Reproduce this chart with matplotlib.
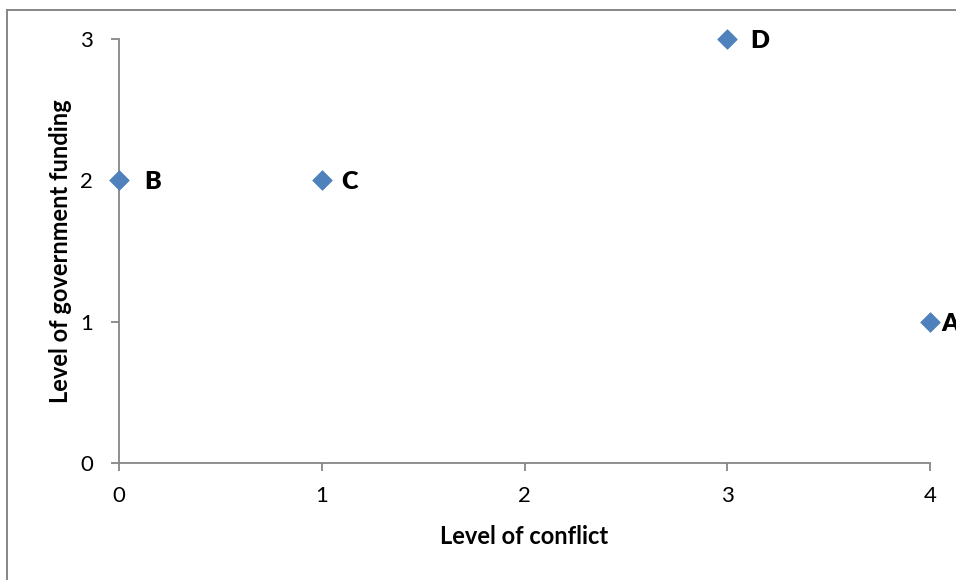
import matplotlib
matplotlib.use("Agg")
import matplotlib.pyplot as plt
from matplotlib.lines import Line2D

# Project data: conflict level vs. government funding
labels = ["A", "B", "C", "D"]
conflict = [4, 0, 1, 3]
funding = [1, 2, 2, 3]
# horizontal gap (points) between each marker and its label
label_gap = [8.0, 18.0, 13.8, 16.8]

x_ticks = [0, 1, 2, 3, 4]
y_ticks = [0, 1, 2, 3]

plt.rcParams["font.family"] = ["Lato", "DejaVu Sans"]

W, H = 956, 580
fig = plt.figure(figsize=(W / 100, H / 100), dpi=100)
ax = fig.add_axes([119 / W, 1 - 463 / H, (930 - 119) / W, (463 - 39) / H])

axis_grey = "#868686"
ax.scatter(conflict, funding, marker="D", s=10 ** 2, color="#4F81BD",
           edgecolors="#4A7EBB", linewidths=0.5, zorder=3, clip_on=False)

for lab, x, y, gap in zip(labels, conflict, funding, label_gap):
    ax.annotate(lab, (x, y), xytext=(gap, -1.5), textcoords="offset points",
                ha="left", va="center", fontsize=18, fontweight="heavy",
                color="black", annotation_clip=False)

ax.set_xlim(0, 4)
ax.set_ylim(0, 3)
ax.set_xticks(x_ticks)
ax.set_yticks(y_ticks)
ax.set_xticklabels([str(v) for v in x_ticks])
ax.set_yticklabels([str(v) for v in y_ticks])

for side in ("top", "right"):
    ax.spines[side].set_visible(False)
for side in ("left", "bottom"):
    ax.spines[side].set_color(axis_grey)
    ax.spines[side].set_linewidth(1.3)

ax.tick_params(axis="both", direction="out", color=axis_grey, width=1.3,
               labelsize=16, labelcolor="black")
ax.tick_params(axis="x", length=5.5, pad=11)
ax.tick_params(axis="y", length=5.5, pad=13)

ax.set_xlabel("Level of conflict", fontsize=17, fontweight="bold", labelpad=14)
ax.set_ylabel("Level of government funding", fontsize=17, fontweight="bold",
              labelpad=6)

# Chart-area border (open on the right and bottom edges)
fig.add_artist(Line2D([6.5 / W, 6.5 / W], [0, 1 - 9.5 / H],
                      transform=fig.transFigure, color=axis_grey, lw=1.4))
fig.add_artist(Line2D([6.5 / W, 1], [1 - 9.5 / H, 1 - 9.5 / H],
                      transform=fig.transFigure, color=axis_grey, lw=1.4))

fig.savefig("out.png", dpi=100)
